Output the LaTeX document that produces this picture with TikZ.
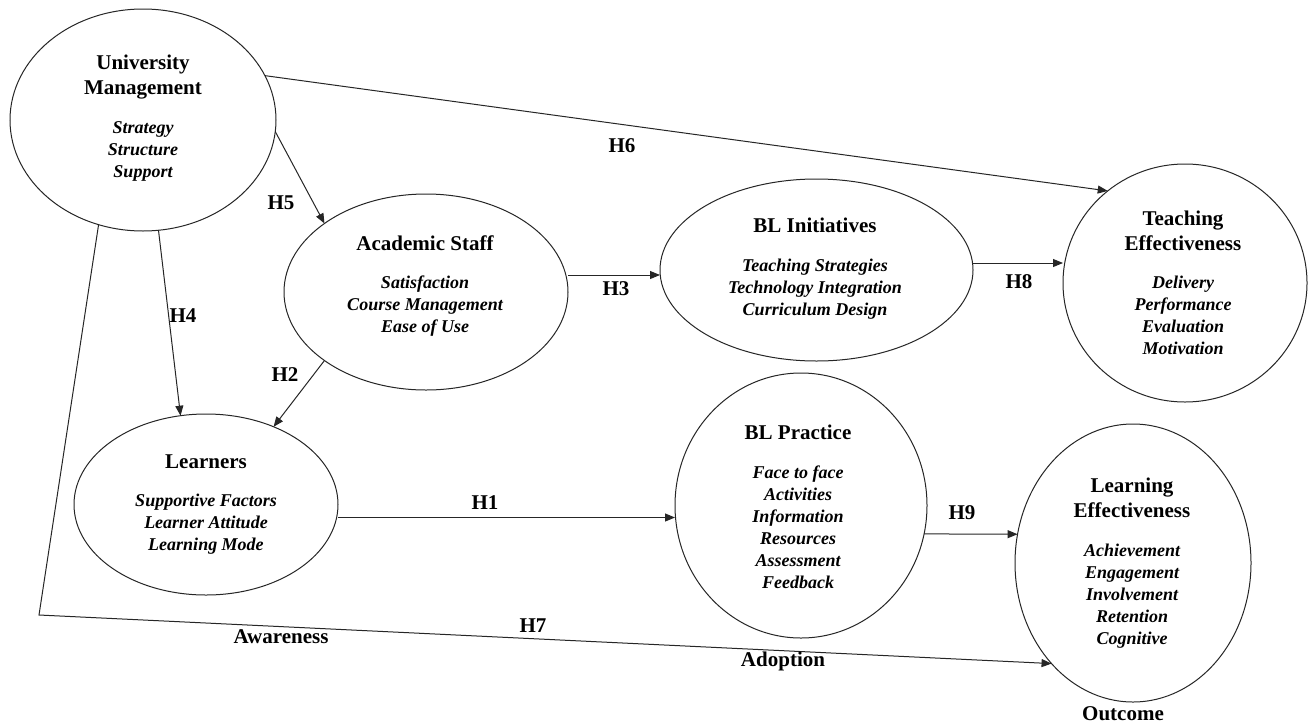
\documentclass[tikz,border=0pt]{standalone}
\usepackage{fontspec}
\setmainfont{Liberation Serif}
\usetikzlibrary{arrows.meta,shapes.geometric}
\newcommand\blk[1]{\begin{tabular}[t]{@{}c@{}}#1\end{tabular}}
\begin{document}
\begin{tikzpicture}[x=1pt,y=-1pt,
  ell/.style={draw=black!85, line width=1pt, ellipse, inner sep=0pt, outer sep=0pt},
  ttl/.style={anchor=base, inner sep=0pt, font=\fontsize{21}{25}\selectfont\bfseries},
  itm/.style={anchor=base, inner sep=0pt, font=\fontsize{18}{22}\selectfont\bfseries\itshape},
  hyp/.style={anchor=base, inner sep=0pt, font=\fontsize{21}{25}\selectfont\bfseries},
  conn/.style={draw=black!85, line width=1pt, -{Triangle[length=10pt,width=8pt]}},
]
\path[fill=white] (0,0) rectangle (1308,723);
\useasboundingbox (0,0) rectangle (1308,723);

% ellipses
\node[ell, minimum width=266pt, minimum height=222pt] (UM) at (143,120) {};
\node[ell, minimum width=284pt, minimum height=196pt] (AS) at (426,292) {};
\node[ell, minimum width=313pt, minimum height=182pt] (BI) at (816.5,270) {};
\node[ell, minimum width=244pt, minimum height=238pt] (TE) at (1185,283) {};
\node[ell, minimum width=264pt, minimum height=181pt] (LR) at (206,504.5) {};
\node[ell, minimum width=252pt, minimum height=265pt] (BP) at (801,505.5) {};
\node[ell, minimum width=236pt, minimum height=278pt] (LE) at (1133,563) {};

% texts
\node[ttl] (UMt) at (143,69) {\blk{University\\Management}};
\node[itm] (UMi) at (143,133) {\blk{Strategy\\Structure\\Support}};
\node[ttl] (ASt) at (425,250) {\blk{Academic Staff}};
\node[itm] (ASi) at (425,288) {\blk{Satisfaction\\Course Management\\Ease of Use}};
\node[ttl] (BIt) at (815,232) {\blk{BL Initiatives}};
\node[itm] (BIi) at (815,271) {\blk{Teaching Strategies\\Technology Integration\\Curriculum Design}};
\node[ttl] (TEt) at (1183,225) {\blk{Teaching\\Effectiveness}};
\node[itm] (TEi) at (1183,288) {\blk{Delivery\\Performance\\Evaluation\\Motivation}};
\node[ttl] (LRt) at (206,468) {\blk{Learners}};
\node[itm] (LRi) at (206,506) {\blk{Supportive Factors\\Learner Attitude\\Learning Mode}};
\node[ttl] (BPt) at (798,439) {\blk{BL Practice}};
\node[itm] (BPi) at (798,478) {\blk{Face to face\\Activities\\Information\\Resources\\Assessment\\Feedback}};
\node[ttl] (LEt) at (1132,492) {\blk{Learning\\Effectiveness}};
\node[itm] (LEi) at (1132,556) {\blk{Achievement\\Engagement\\Involvement\\Retention\\Cognitive}};

% connectors
\coordinate (corner) at (39,615);
\coordinate (yH3) at (0,275);
\coordinate (yH8) at (0,263);
\coordinate (yH1) at (0,517.5);
\draw[conn] (UM.20.4) -- (TE.130.1);
\draw[conn] (UM.-5.6) -- (AS.146.7);
\draw[conn] (UM.-82.7) -- (LR.106.4);
\draw[conn] (AS.214.7) -- (LR.49.7);
\draw[conn] (AS.east |- yH3) -- (BI.west |- yH3);
\draw[conn] (BI.east |- yH8) -- (TE.west |- yH8);
\draw[conn] (LR.east |- yH1) -- (BP.west |- yH1);
\draw[conn] (BP.-13.5) -- (LE.166.4);
\draw[conn] (UM.247.7) -- (corner) -- (LE.231.6);

% labels
\node[hyp] (h6) at (622,152) {H6};
\node[hyp] (h5) at (281,209) {H5};
\node[hyp] (h4) at (183,322) {H4};
\node[hyp] (h2) at (285,381) {H2};
\node[hyp] (h3) at (616,295) {H3};
\node[hyp] (h8) at (1019,288) {H8};
\node[hyp] (h1) at (485,509) {H1};
\node[hyp] (h9) at (962,519) {H9};
\node[hyp] (h7) at (533,632) {H7};
\node[hyp] (aw) at (281,643) {Awareness};
\node[hyp] (ad) at (783,666) {Adoption};
\node[hyp] (oc) at (1123,720) {Outcome};
\end{tikzpicture}
\end{document}
